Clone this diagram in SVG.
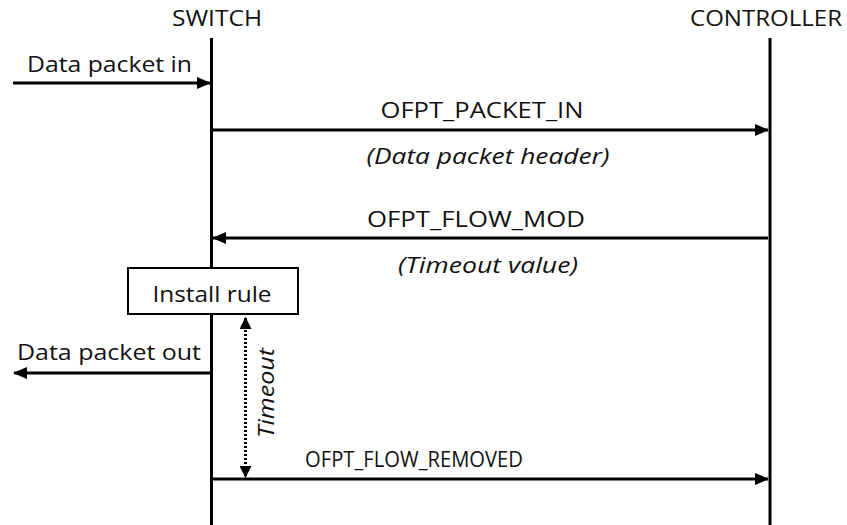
<svg xmlns="http://www.w3.org/2000/svg" width="847" height="525" viewBox="0 0 847 525">
<style>
text{font-family:"Open Sans","Noto Sans","DejaVu Sans",sans-serif;font-size:22px;fill:#111}
.it{font-style:italic}
.life{stroke:#000;stroke-width:3;fill:none}
.msg{stroke:#000;stroke-width:3;fill:none;marker-end:url(#ah)}
.dot{stroke:#000;stroke-width:3;fill:none;stroke-dasharray:2 2;marker-start:url(#sh);marker-end:url(#sh)}
</style>
<defs>
<marker id="ah" markerUnits="userSpaceOnUse" markerWidth="14" markerHeight="12" refX="13" refY="6" orient="auto"><path d="M0,0 L14,6 L0,12 z" fill="#000"/></marker>
<marker id="sh" markerUnits="userSpaceOnUse" markerWidth="12" markerHeight="12" refX="11" refY="6" orient="auto-start-reverse"><path d="M0,0 L12,6 L0,12 z" fill="#000"/></marker>
</defs>
<rect width="847" height="525" fill="#fff"/>
<g id="switch">
<text x="217" y="26" text-anchor="middle" textLength="90" lengthAdjust="spacingAndGlyphs">SWITCH</text>
<line class="life" x1="211.5" y1="38" x2="211.5" y2="525"/>
</g>
<g id="controller">
<text x="766" y="26" text-anchor="middle" textLength="152" lengthAdjust="spacingAndGlyphs">CONTROLLER</text>
<line class="life" x1="770" y1="38" x2="770" y2="525"/>
</g>
<g id="connectors">
<line class="msg" x1="13" y1="83" x2="210" y2="83"/>
<line class="msg" x1="213" y1="130" x2="768" y2="130"/>
<line class="msg" x1="768" y1="238" x2="213" y2="238"/>
<line class="msg" x1="210" y1="373" x2="14" y2="373"/>
<line class="msg" x1="213" y1="479" x2="768" y2="479"/>
<line class="dot" x1="245.5" y1="318" x2="245.5" y2="477"/>
</g>
<g id="labels">
<text x="27" y="72" textLength="165" lengthAdjust="spacingAndGlyphs">Data packet in</text>
<text x="482" y="118" text-anchor="middle" textLength="203" lengthAdjust="spacingAndGlyphs">OFPT_PACKET_IN</text>
<text class="it" x="488" y="164" text-anchor="middle" textLength="243" lengthAdjust="spacingAndGlyphs">(Data packet header)</text>
<text x="476" y="227" text-anchor="middle" textLength="218" lengthAdjust="spacingAndGlyphs">OFPT_FLOW_MOD</text>
<text class="it" x="488" y="273" text-anchor="middle" textLength="180" lengthAdjust="spacingAndGlyphs">(Timeout value)</text>
<text x="17" y="360" textLength="184" lengthAdjust="spacingAndGlyphs">Data packet out</text>
<text x="414" y="467" text-anchor="middle" textLength="218" lengthAdjust="spacingAndGlyphs">OFPT_FLOW_REMOVED</text>
<text class="it" transform="translate(274,393) rotate(-90)" x="0" y="0" text-anchor="middle" textLength="90" lengthAdjust="spacingAndGlyphs">Timeout</text>
</g>
<g id="install-rule">
<rect x="128" y="268" width="170" height="46" fill="#fff" stroke="#000" stroke-width="2"/>
<text x="212" y="302" text-anchor="middle" textLength="119" lengthAdjust="spacingAndGlyphs">Install rule</text>
</g>
</svg>
